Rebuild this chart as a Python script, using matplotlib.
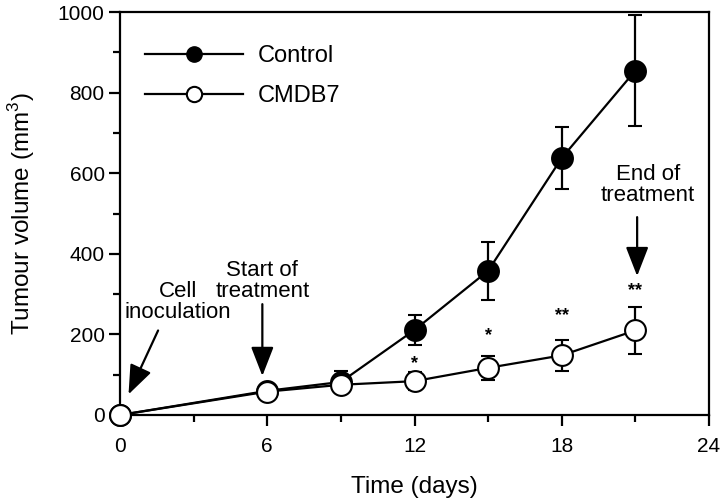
import numpy as np
import matplotlib.pyplot as plt
from matplotlib.ticker import MultipleLocator
from matplotlib.lines import Line2D

plt.rcParams['font.family'] = ['Liberation Sans', 'DejaVu Sans']
plt.rcParams['mathtext.fontset'] = 'custom'
plt.rcParams['mathtext.rm'] = 'Liberation Sans'

# data
days = [0, 6, 9, 12, 15, 18, 21]
control = [0, 60, 82, 211, 358, 638, 855]
control_err = [0, 0, 28, 37, 72, 78, 137]
cmdb7 = [0, 58, 75, 84, 117, 148, 210]
cmdb7_err = [0, 0, 0, 23, 30, 38, 58]

star_days = [12, 15, 18, 21]
star_labels = ['*', '*', '**', '**']
star_y = [128, 196, 246, 310]

fig = plt.figure(figsize=(7.25, 5.04), dpi=100)
ax = fig.add_axes([0.1655, 0.1766, 0.8125, 0.7994])

lw = 1.6
ax.errorbar(days, control, yerr=control_err, color='black', lw=lw,
            marker='o', ms=15, mfc='black', mec='black', mew=1.5,
            capsize=5, capthick=lw, elinewidth=lw,
            clip_on=False, zorder=3)
ax.errorbar(days, cmdb7, yerr=cmdb7_err, color='black', lw=lw,
            marker='o', ms=15, mfc='white', mec='black', mew=1.5,
            capsize=5, capthick=lw, elinewidth=lw,
            clip_on=False, zorder=4)

for d, s, y in zip(star_days, star_labels, star_y):
    ax.text(d, y, s, ha='center', va='center', fontsize=13, fontweight='bold')

arrow = dict(arrowstyle='-|>,head_width=0.7,head_length=1.8', color='black', lw=lw)
ax.annotate('', xy=(0.3, 45), xytext=(1.6, 216), arrowprops=arrow)
ax.text(2.36, 280, 'Cell\ninoculation', ha='center', va='center', fontsize=16,
        linespacing=1.0)
ax.annotate('', xy=(5.8, 90), xytext=(5.8, 282), arrowprops=arrow)
ax.text(5.8, 333, 'Start of\ntreatment', ha='center', va='center', fontsize=16,
        linespacing=1.0)
ax.annotate('', xy=(21.07, 338), xytext=(21.07, 498), arrowprops=arrow)
ax.text(21.5, 570, 'End of\ntreatment', ha='center', va='center', fontsize=16,
        linespacing=1.0)

ax.set_xlim(0, 24)
ax.set_ylim(0, 1000)
ax.xaxis.set_major_locator(MultipleLocator(6))
ax.xaxis.set_minor_locator(MultipleLocator(3))
ax.yaxis.set_major_locator(MultipleLocator(200))
ax.yaxis.set_minor_locator(MultipleLocator(100))
ax.tick_params(which='major', length=8, width=lw, labelsize=15, direction='out')
ax.tick_params(which='minor', length=5, width=lw, direction='out')
ax.tick_params(axis='x', which='major', pad=8)
ax.tick_params(axis='y', which='major', pad=3)
for sp in ax.spines.values():
    sp.set_linewidth(lw)

ax.set_xlabel('Time (days)', fontsize=17.5, labelpad=14)
ax.set_ylabel('Tumour volume (mm$^3$)', fontsize=17.5, labelpad=15)

handles = [
    Line2D([], [], color='black', lw=lw, marker='o', ms=11, mfc='black', mec='black'),
    Line2D([], [], color='black', lw=lw, marker='o', ms=11, mfc='white', mec='black', mew=1.5),
]
ax.legend(handles, ['Control', 'CMDB7'], loc='upper left',
          bbox_to_anchor=(0.007, 0.97), frameon=False,
          fontsize=17, handlelength=4.15, handletextpad=0.6, labelspacing=0.75)

fig.savefig('out.png', dpi=100)
